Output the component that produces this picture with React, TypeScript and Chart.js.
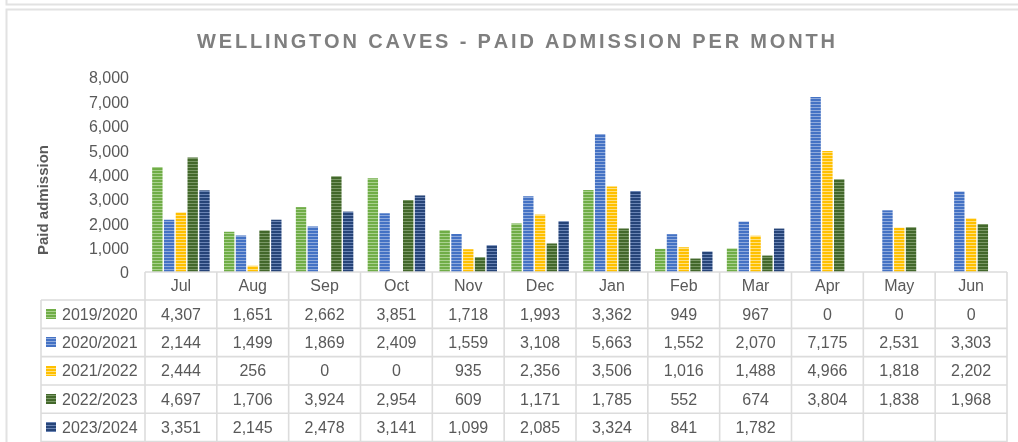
import React, { useEffect, useRef } from "react";
import { Chart, registerables } from "chart.js";

Chart.register(...registerables);

const months = ["Jul", "Aug", "Sep", "Oct", "Nov", "Dec", "Jan", "Feb", "Mar", "Apr", "May", "Jun"];
const seriesNames = ["2019/2020", "2020/2021", "2021/2022", "2022/2023", "2023/2024"];
const s2019 = [4307, 1651, 2662, 3851, 1718, 1993, 3362, 949, 967, 0, 0, 0];
const s2020 = [2144, 1499, 1869, 2409, 1559, 3108, 5663, 1552, 2070, 7175, 2531, 3303];
const s2021 = [2444, 256, 0, 0, 935, 2356, 3506, 1016, 1488, 4966, 1818, 2202];
const s2022 = [4697, 1706, 3924, 2954, 609, 1171, 1785, 552, 674, 3804, 1838, 1968];
const s2023 = [3351, 2145, 2478, 3141, 1099, 2085, 3324, 841, 1782, null, null, null];
const seriesValues = [s2019, s2020, s2021, s2022, s2023];
const baseColors = ["#70AD47", "#4472C4", "#FFC000", "#43682B", "#264478"];
const stripeColors = ["#A9D18E", "#8FAADC", "#FFE080", "#7A9866", "#6A84B4"];

const titleText = "WELLINGTON CAVES - PAID ADMISSION PER MONTH";
const yTitle = "Paid admission";
const FONT = "'Liberation Sans', Arial, sans-serif";
const TEXT = "#595959";
const LINE = "#dcdcdc";

function makePattern(ctx: CanvasRenderingContext2D, base: string, light: string) {
  const c = document.createElement("canvas");
  c.width = 4;
  c.height = 3;
  const g = c.getContext("2d")!;
  g.fillStyle = base;
  g.fillRect(0, 0, 4, 3);
  g.fillStyle = light;
  g.fillRect(0, 2, 4, 1);
  return ctx.createPattern(c, "repeat")!;
}

const fmt = (v: number | null) => (v === null ? "" : v.toLocaleString("en-US"));

export default function App() {
  const ref = useRef<HTMLCanvasElement>(null);
  useEffect(() => {
    const canvas = ref.current!;
    const ctx = canvas.getContext("2d")!;
    const patterns = baseColors.map((b, i) => makePattern(ctx, b, stripeColors[i]));

    const tablePlugin = {
      id: "tablePlugin",
      afterDraw(chart: any) {
        const c = chart.ctx as CanvasRenderingContext2D;
        const area = chart.chartArea;
        const xs = chart.scales.x;
        const n = months.length;
        const colW = (area.right - area.left) / n;
        const headerTop = area.bottom;
        const headerBottom = 300;
        const rowH = 28.33;
        const legendLeft = 41;
        const bottom = 442;
        c.save();
        // frame lines
        c.strokeStyle = "#e2e2e2";
        c.lineWidth = 2;
        c.beginPath();
        c.moveTo(6.5, 0);
        c.lineTo(6.5, 4.5);
        c.lineTo(1018, 4.5);
        c.moveTo(1018, 9.5);
        c.lineTo(6.5, 9.5);
        c.lineTo(6.5, 442);
        c.stroke();

        // title
        c.fillStyle = "#7f7f7f";
        c.font = `bold 20px ${FONT}`;
        c.textBaseline = "middle";
        c.textAlign = "left";
        const chars = titleText.split("");
        const widths = chars.map((ch) => c.measureText(ch).width);
        const natural = widths.reduce((a, b) => a + b, 0);
        const target = 638;
        const sp = (target - natural) / (chars.length - 1);
        let tx = 516 - target / 2;
        chars.forEach((ch, i) => {
          c.fillText(ch, tx, 42);
          tx += widths[i] + sp;
        });

        // y axis title
        c.save();
        c.translate(44, 200);
        c.rotate(-Math.PI / 2);
        c.font = `bold 15px ${FONT}`;
        c.fillStyle = TEXT;
        c.textAlign = "center";
        c.textBaseline = "middle";
        c.fillText(yTitle, 0, 0);
        c.restore();

        // table grid
        c.strokeStyle = LINE;
        c.lineWidth = 1.6;
        c.beginPath();
        c.moveTo(area.left, headerTop);
        c.lineTo(area.right, headerTop);
        for (let r = 0; r <= seriesNames.length; r++) {
          const y = headerBottom + r * rowH;
          c.moveTo(legendLeft, y);
          c.lineTo(area.right, y);
        }
        c.moveTo(legendLeft, headerBottom);
        c.lineTo(legendLeft, bottom);
        for (let i = 0; i <= n; i++) {
          const x = area.left + i * colW;
          c.moveTo(x, headerTop);
          c.lineTo(x, bottom);
        }
        c.stroke();

        // header labels
        c.font = `16px ${FONT}`;
        c.fillStyle = TEXT;
        c.textAlign = "center";
        c.textBaseline = "middle";
        months.forEach((m, i) => {
          c.fillText(m, xs.getPixelForValue(i), (headerTop + headerBottom) / 2 + 1);
        });

        // rows
        seriesNames.forEach((name, r) => {
          const cy = headerBottom + r * rowH + rowH / 2 + 1;
          c.fillStyle = patterns[r];
          c.fillRect(46, Math.round(cy - 6), 10, 10);
          c.fillStyle = TEXT;
          c.textAlign = "left";
          c.fillText(name, 62, cy);
          c.textAlign = "center";
          seriesValues[r].forEach((v, i) => {
            c.fillText(fmt(v), xs.getPixelForValue(i), cy);
          });
        });
        c.restore();
      },
    };

    const chart = new Chart(canvas, {
      type: "bar",
      data: {
        labels: months,
        datasets: seriesNames.map((name, i) => ({
          label: name,
          data: seriesValues[i],
          backgroundColor: patterns[i],
          borderWidth: 0,
          barPercentage: 0.88,
          categoryPercentage: 0.82,
        })),
      },
      options: {
        animation: false,
        responsive: false,
        layout: { padding: { left: 0, right: 11, top: 77, bottom: 170 } },
        plugins: {
          legend: { display: false },
          title: { display: false },
          tooltip: { enabled: false },
        },
        scales: {
          x: {
            display: false,
            grid: { display: false },
          },
          y: {
            min: 0,
            max: 8000,
            ticks: {
              stepSize: 1000,
              padding: 16,
              color: TEXT,
              labelOffset: 2,
              font: { family: FONT, size: 16 },
              callback: (v: any) => Number(v).toLocaleString("en-US"),
            },
            grid: { display: false, drawTicks: false },
            border: { display: false },
            afterFit: (scale: any) => {
              scale.width = 145;
            },
          },
        },
      },
      plugins: [tablePlugin],
    });
    return () => chart.destroy();
  }, []);

  return (
    <div style={{ position: "fixed", left: 0, top: 0, width: 1018, height: 442, background: "#fff" }}>
      <canvas ref={ref} width={1018} height={442} style={{ display: "block" }} />
    </div>
  );
}
